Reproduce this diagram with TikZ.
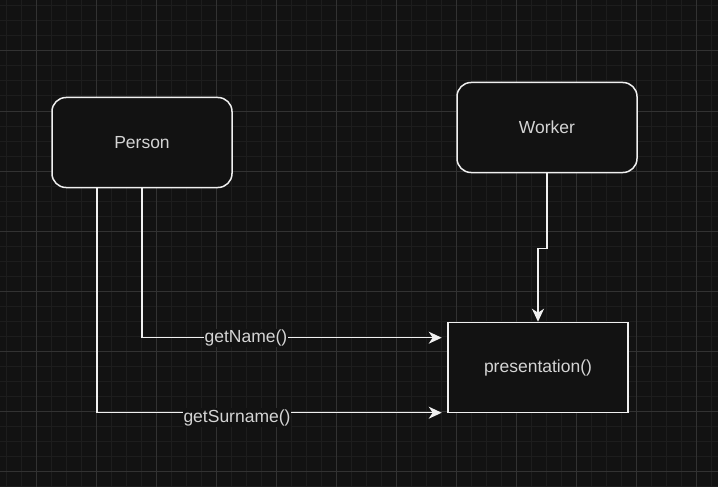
\documentclass[tikz,border=0pt]{standalone}
\usepackage{fontspec}
\setmainfont{Liberation Sans}
\usetikzlibrary{arrows.meta}
\definecolor{canvas}{RGB}{18,18,18}
\definecolor{gridfine}{RGB}{29,29,29}
\definecolor{gridbold}{RGB}{50,50,50}
\definecolor{edge}{RGB}{240,240,240}
\definecolor{ink}{RGB}{212,212,212}
\tikzset{
	classbox/.style={draw=edge, line width=1.5pt, fill=canvas, rounded corners=14pt, minimum width=180pt, minimum height=90pt, text=ink, font=\fontsize{17.5}{21}\selectfont},
	methodbox/.style={classbox, rounded corners=0pt},
	wire/.style={draw=edge, line width=1.5pt, -{Stealth[length=13pt,width=12pt,inset=4pt]}},
	calllabel/.style={fill=canvas, text=ink, inner sep=1pt, font=\fontsize{17.5}{21}\selectfont}
}

\begin{document}
\begin{tikzpicture}[x=1pt, y=-1pt]
			%%%%% START %%%%%
			
			\fill[canvas] (0, 0) rectangle (718, 487);
			\useasboundingbox (0, 0) rectangle (718, 487);
			
			\foreach \gx in {6, 21, ..., 718} \draw[gridfine, line width=1pt] (\gx, 0) -- (\gx, 487);
			\foreach \gy in {6, 21, ..., 487} \draw[gridfine, line width=1pt] (0, \gy) -- (718, \gy);
			\foreach \gx in {36, 96, ..., 718} \draw[gridbold, line width=1pt] (\gx, 0) -- (\gx, 487);
			\foreach \gy in {51, 111, ..., 487} \draw[gridbold, line width=1pt] (0, \gy) -- (718, \gy);
			
			\node[classbox] (person) at (142, 142.5) {Person};
			\node[classbox] (worker) at (547, 127.5) {Worker};
			\node[methodbox] (pres) at (538, 367.5) {presentation()};
			
			\coordinate (nameIn) at (441.7, 337.7);
			\coordinate (surnameIn) at (441.7, 412.7);
			
			\draw[wire] (person.south) |- (nameIn);
			\draw[wire] ([xshift=-45pt]person.south) |- (surnameIn);
			\draw[wire] (worker.south) -- ++(0, 75) -| (pres.north);
			
			\node[calllabel] (nameLbl) at (246, 337.7) {getName()};
			\node[calllabel] (surnameLbl) at (237, 417.5) {getSurname()};
			
			%%%%% END %%%%%
\end{tikzpicture}
\end{document}
